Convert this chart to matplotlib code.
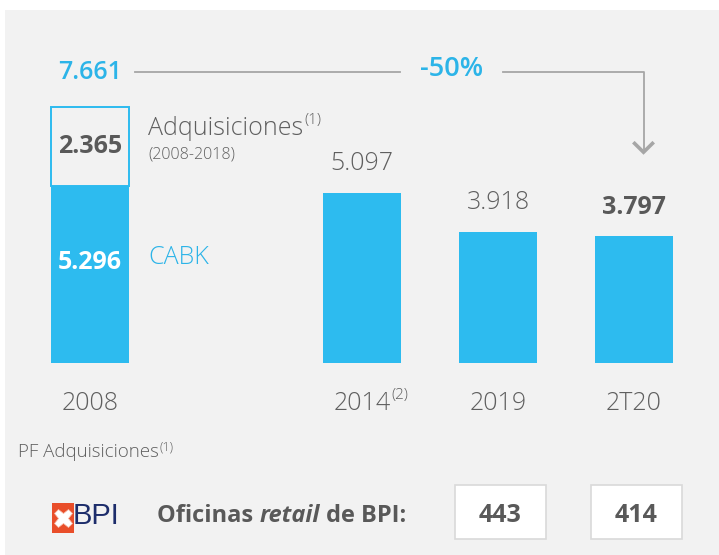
import matplotlib
matplotlib.use("Agg")
import matplotlib.pyplot as plt
from matplotlib.patches import Rectangle

# data
categories = ["2008", "2014", "2019", "2T20"]
cat_notes = ["", "(2)", "", ""]
cabk = [5.296, 5.097, 3.918, 3.797]
acquisitions_2008 = 2.365
total_2008 = 7.661
value_labels = ["5.296", "5.097", "3.918", "3.797"]
change_label = "-50%"
bpi_years = ["2019", "2T20"]
bpi_offices = [443, 414]

BLUE = "#2dbbef"
BLUE_TXT = "#2cb4e8"
DARK = "#595959"
LIGHT = "#5f5f5f"
LINE = "#a6a6a6"
BG = "#f2f2f2"
FS = 18

plt.rcParams["font.family"] = ["Open Sans", "DejaVu Sans"]

W, H = 719, 555
fig = plt.figure(figsize=(W / 100, H / 100), dpi=100)
fig.patch.set_facecolor("white")
fig.patches.append(Rectangle((5 / W, 0), 1, 1 - 10 / H, transform=fig.transFigure,
                             facecolor=BG, edgecolor="none", zorder=-5))

# axes: y=0 at pixel row 363, 33.4 px per unit ; x unit = 136 px, first bar at px 90
ppu_y, ppu_x = 33.4, 136.0
ax = fig.add_axes([0, 0, 1, 1])
ax.set_facecolor("none")
ax.set_xlim(-90 / ppu_x, (W - 90) / ppu_x)
ax.set_ylim(-(H - 363) / ppu_y, 363 / ppu_y)
ax.axis("off")

xpos = [0, 2, 3, 4]
bw = 78 / ppu_x

def px(x, y):
    # pixel (from top-left) -> data coords
    return ax.transData.inverted().transform(fig.transFigure.transform((x / W, 1 - y / H)))

def sup(t, s, size, dy=2):
    ax.annotate(s, xy=(1, 1), xycoords=t, xytext=(0.5, dy), textcoords="offset points",
                ha="left", va="top", fontsize=size, fontweight="light", color=LIGHT)

ax.bar(xpos, cabk, width=bw, color=BLUE, zorder=2)
ax.bar(xpos[0], acquisitions_2008, bottom=cabk[0], width=bw, facecolor="none",
       edgecolor=BLUE, linewidth=1.4, zorder=2)

# labels in/above bars
ax.text(xpos[0], cabk[0] / 2 + 0.37, value_labels[0], ha="center", va="center",
        fontsize=FS, fontweight="bold", color="white")
ax.text(xpos[0], cabk[0] + acquisitions_2008 / 2, f"{acquisitions_2008:.3f}",
        ha="center", va="center", fontsize=FS, fontweight="bold", color=DARK)
for i in range(1, len(categories)):
    bold = i == len(categories) - 1
    ax.annotate(value_labels[i], (xpos[i], cabk[i]), xytext=(0, 21), textcoords="offset points",
                ha="center", va="center", fontsize=FS,
                fontweight="bold" if bold else "light", color=DARK if bold else LIGHT)

# category labels
for i, c in enumerate(categories):
    t = ax.text(xpos[i], px(0, 403)[1], c, ha="center", va="center", fontsize=FS,
                fontweight="light", color=LIGHT)
    if cat_notes[i]:
        sup(t, cat_notes[i], 11)

# legend-like texts
lx = xpos[0] + bw / 2 + 19 / ppu_x
t = ax.text(lx, cabk[0] + acquisitions_2008 * 0.73, "Adquisiciones", ha="left", va="center",
            fontsize=FS, fontweight="light", color=LIGHT)
sup(t, "(1)", 11)
ax.text(lx, cabk[0] + acquisitions_2008 * 0.40, "(2008-2018)", ha="left", va="center",
        fontsize=11.5, fontweight="light", color=LIGHT)
ax.text(lx, cabk[0] * 0.595, "CABK", ha="left", va="center", fontsize=FS,
        fontweight="light", color=BLUE_TXT)

# total and change arrow
yl = total_2008 + 1.05
ax.text(xpos[0], yl, f"{total_2008:.3f}", ha="center", va="center", fontsize=FS,
        fontweight="semibold", color=BLUE_TXT)
mid = 2.66
ax.text(mid, yl + 0.08, change_label, ha="center", va="center", fontsize=19.5,
        fontweight="semibold", color=BLUE_TXT)
ax.plot([xpos[0] + 0.33, mid - 0.38], [yl, yl], color=LINE, lw=1.3, zorder=1)
ax.plot([mid + 0.38, xpos[-1] + 0.07, xpos[-1] + 0.07], [yl, yl, yl - 2.3],
        color=LINE, lw=1.3, zorder=1)
cx, cy = xpos[-1] + 0.07, yl - 2.4
ax.plot([cx - 0.075, cx, cx + 0.075], [cy + 0.3, cy, cy + 0.3], color=LINE, lw=2.6,
        solid_capstyle="butt", solid_joinstyle="miter", zorder=1)

# footnote
t = ax.text(*px(18, 452), "PF Adquisiciones", ha="left", va="center", fontsize=13.5,
            fontweight="light", color=LIGHT)
sup(t, "(1)", 9, dy=1.5)

# BPI row
yrow = px(0, 516)[1]
x0, y0 = px(52, 533)
x1, y1 = px(74, 503)
ax.add_patch(Rectangle((x0, y0), x1 - x0, y1 - y0, facecolor="#e94e2a", edgecolor="none"))
ax.plot([(x0 + x1) / 2], [(y0 + y1) / 2], marker="X", ms=13, color="white", mec="#f6b9a6", mew=0.5)
ax.text(px(73, 0)[0], yrow, "BPI", ha="left", va="center", fontsize=21, color="#1d2d6b",
        family=["Liberation Sans Narrow", "Liberation Sans", "DejaVu Sans"])
t1 = ax.text(px(157, 0)[0], yrow, "Oficinas ", ha="left", va="center", fontsize=17,
             fontweight="bold", color=DARK)
t2 = ax.annotate("retail", xy=(1, 0), xycoords=t1, ha="left", va="bottom", fontsize=17,
                 fontweight="bold", fontstyle="italic", color=DARK)
ax.annotate(" de BPI:", xy=(1, 0), xycoords=t2, ha="left", va="bottom", fontsize=17,
            fontweight="bold", color=DARK)
bh = 54 / ppu_y
bwid = 91 / ppu_x
ybox = px(0, 512)[1]
for yr, n in zip(bpi_years, bpi_offices):
    xc = xpos[categories.index(yr)] + 2.5 / ppu_x
    ax.add_patch(Rectangle((xc - bwid / 2, ybox - bh / 2), bwid, bh, facecolor="white",
                           edgecolor="#d9d9d9", lw=1.2))
    ax.text(xc, yrow, str(n), ha="center", va="center", fontsize=18, fontweight="bold",
            color=DARK)

fig.savefig("out.png", dpi=100, facecolor=fig.get_facecolor())
